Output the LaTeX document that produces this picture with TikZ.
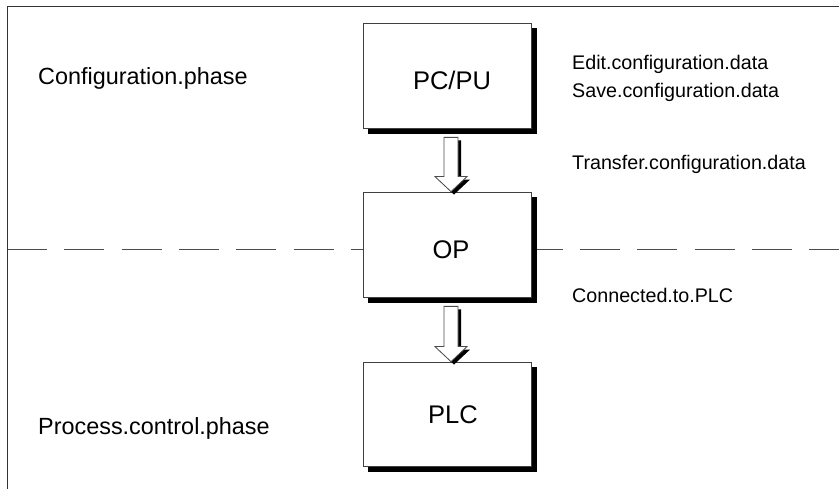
\documentclass[tikz,border=0pt]{standalone}
\usepackage{fontspec}
\setmainfont{Liberation Sans}
\usetikzlibrary{calc,backgrounds}
\newcommand\arrowshape[3]{%
  \path[#3] let \p1=#1, \p2=#2 in
    ({\x2-7pt},\y1) -- ({\x2+7pt},\y1) -- ({\x2+7pt},{\y2+15pt}) --
    ({\x2+16pt},{\y2+15pt}) -- (\x2,\y2) -- ({\x2-16pt},{\y2+15pt}) --
    ({\x2-7pt},{\y2+15pt}) -- cycle;}
\newcommand\boxshadow[1]{%
  \fill[black] ([shift={(5.5,5.5)}]#1.south west) rectangle ([shift={(5.5,5.5)}]#1.north east);}
\tikzset{
  frameline/.style={line width=0.9pt, draw=black!80},
  phaseline/.style={line width=0.9pt, draw=black!70, dash pattern=on 40pt off 17.3pt},
  blockbox/.style={draw=black!75, line width=0.8pt, fill=white, minimum width=168pt,
    minimum height=105pt, inner sep=0pt},
  boxlabel/.style={anchor=base, inner sep=0pt, font=\fontsize{25.5}{30}\selectfont},
  phaselabel/.style={anchor=base west, inner sep=0pt, font=\fontsize{23.4}{28}\selectfont},
  note/.style={anchor=base west, inner sep=0pt, font=\fontsize{19.7}{24}\selectfont},
  arrowshadow/.style={fill=black},
  arrowbody/.style={fill=white, draw=black!70, line width=0.8pt, line join=miter},
}
\begin{document}
\begin{tikzpicture}[x=1pt,y=-1pt]
\useasboundingbox (0,0) rectangle (839,489);
% frame
\draw[frameline] (7,489) coordinate (fbl) -- (7,6) coordinate (ftl) -- (839,6) coordinate (ftr);
% boxes
\node[blockbox] (pc) at (447,75.5) {};
\node[blockbox] (op) at (447,244.5) {};
\node[blockbox, minimum height=104pt] (plc) at (447,414) {};
\begin{scope}[on background layer]
  % phase separator
  \draw[phaseline] (7,249) coordinate (sl) -- (839,249) coordinate (sr);
  \boxshadow{pc}
  \boxshadow{op}
  \boxshadow{plc}
\end{scope}
\node[boxlabel] (pclbl) at ([shift={(5,14.5)}]pc.center) {PC/PU};
\node[boxlabel] (oplbl) at ([shift={(4,14.5)}]op.center) {OP};
\node[boxlabel] (plclbl) at ([shift={(6,9)}]plc.center) {PLC};
% arrows
\arrowshape{($(pc.south)+(6,12)$)}{($(op.north)+(7,3)$)}{arrowshadow}
\arrowshape{($(pc.south)+(3,9)$)}{($(op.north)+(4,0)$)}{arrowbody}
\arrowshape{($(op.south)+(6,12)$)}{($(plc.north)+(7,3)$)}{arrowshadow}
\arrowshape{($(op.south)+(3,9)$)}{($(plc.north)+(4,0)$)}{arrowbody}
% texts
\node[phaselabel] (cfg) at (38,85) {Configuration.phase};
\node[phaselabel] (proc) at (38,435) {Process.control.phase};
\node[note] (edit) at (572,70) {Edit.configuration.data};
\node[note] (save) at (572,98) {Save.configuration.data};
\node[note] (transfer) at (572,170) {Transfer.configuration.data};
\node[note] (conn) at (572,303) {Connected.to.PLC};
\end{tikzpicture}
\end{document}
